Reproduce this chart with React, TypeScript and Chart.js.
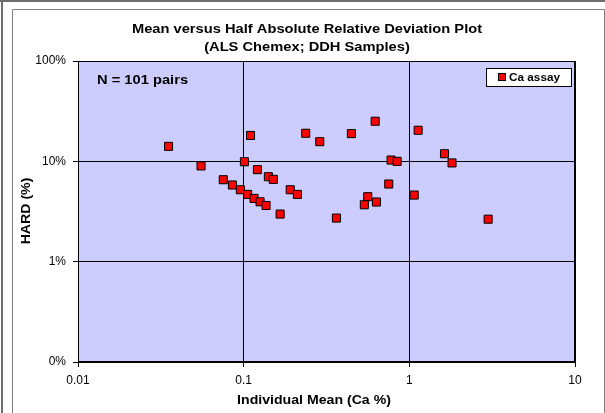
import React, { useEffect, useRef } from "react";
import { Chart, registerables } from "chart.js";

Chart.register(...registerables);

const meanCa: number[] = [0.0352, 0.0553, 0.101, 0.110, 0.0753, 0.0855, 0.0955, 0.1057, 0.1155, 0.1256, 0.1365, 0.121, 0.141, 0.151, 0.166, 0.191, 0.211, 0.237, 0.288, 0.447, 0.622, 0.363, 0.751, 0.561, 0.535, 0.633, 0.776, 0.844, 1.13, 1.07, 1.63, 1.81, 2.99];
const hardPct: number[] = [14.1, 9.0, 9.9, 18.1, 6.56, 5.81, 5.21, 4.68, 4.27, 3.95, 3.63, 8.26, 7.03, 6.61, 2.98, 5.21, 4.68, 19.05, 15.7, 18.9, 25.1, 2.72, 5.94, 4.44, 3.69, 3.93, 10.3, 10.0, 20.4, 4.61, 11.9, 9.64, 2.65];
const xTicks: number[] = [0.01, 0.1, 1, 10];
const yTicks: number[] = [0.1, 1, 10, 100];
const yTickLabels: string[] = ["0%", "1%", "10%", "100%"];
const titleLines: string[] = ["Mean versus Half Absolute Relative Deviation Plot", "(ALS Chemex; DDH Samples)"];
const xTitle = "Individual Mean (Ca %)";
const yTitle = "HARD (%)";
const seriesName = "Ca assay";
const noteText = "N = 101 pairs";

const FONT = "'Liberation Sans', Arial, sans-serif";
const SX = 1.13;

function sText(ctx: any, text: string, x: number, y: number, align: string, rot = 0, sx = SX) {
  ctx.save();
  ctx.translate(x, y);
  if (rot) ctx.rotate(rot);
  ctx.scale(sx, 1);
  ctx.textAlign = align;
  ctx.fillText(text, 0, 0);
  ctx.restore();
}

export default function App() {
  const ref = useRef<HTMLCanvasElement | null>(null);
  useEffect(() => {
    if (!ref.current) return;
    const deco = {
      id: "deco",
      beforeDraw(chart: any) {
        const { ctx, chartArea: a } = chart;
        ctx.save();
        ctx.fillStyle = "#ffffff";
        ctx.fillRect(0, 0, chart.width, chart.height);
        ctx.strokeStyle = "#6e6e6e";
        ctx.lineWidth = 2;
        ctx.beginPath();
        ctx.moveTo(0, 1);
        ctx.lineTo(605, 1);
        ctx.moveTo(2, 0);
        ctx.lineTo(2, 413);
        ctx.stroke();
        ctx.strokeStyle = "#808080";
        ctx.lineWidth = 1;
        ctx.beginPath();
        ctx.moveTo(12.5, 413);
        ctx.lineTo(12.5, 9.5);
        ctx.lineTo(604.5, 9.5);
        ctx.lineTo(604.5, 413);
        ctx.stroke();
        ctx.fillStyle = "#ccccff";
        ctx.fillRect(a.left, a.top, a.right - a.left, a.bottom - a.top);
        ctx.restore();
      },
      afterDraw(chart: any) {
        const { ctx, chartArea: a } = chart;
        ctx.save();
        ctx.strokeStyle = "#000";
        ctx.lineWidth = 1;
        ctx.strokeRect(a.left + 0.5, a.top + 0.5, a.right - a.left - 1, a.bottom - a.top - 1);
        ctx.fillStyle = "#000";
        ctx.textBaseline = "alphabetic";
        ctx.font = `bold 13px ${FONT}`;
        sText(ctx, titleLines[0], 307, 33, "center");
        sText(ctx, titleLines[1], 307, 51, "center");
        ctx.font = `bold 12.5px ${FONT}`;
        sText(ctx, xTitle, 314, 404, "center");
        sText(ctx, yTitle, 30, 211, "center", -Math.PI / 2);
        ctx.font = `bold 13px ${FONT}`;
        sText(ctx, noteText, 97, 84, "left");
        // legend
        ctx.fillStyle = "#fff";
        ctx.fillRect(486, 68, 85, 18);
        ctx.strokeStyle = "#000";
        ctx.strokeRect(486.5, 68.5, 85, 18);
        ctx.fillStyle = "#ff0000";
        ctx.fillRect(498.5, 73.5, 7, 7);
        ctx.strokeRect(498.5, 73.5, 7, 7);
        ctx.fillStyle = "#000";
        ctx.font = `bold 11px ${FONT}`;
        ctx.textBaseline = "middle";
        sText(ctx, seriesName, 509, 78, "left", 0, 1.07);
        ctx.restore();
      },
    };
    const chart = new Chart(ref.current, {
      type: "scatter",
      data: {
        datasets: [
          {
            label: seriesName,
            data: meanCa.map((x, i) => ({ x, y: hardPct[i] })),
            pointStyle: "rect",
            pointRadius: 5.7,
            backgroundColor: "#ff0000",
            borderColor: "#000000",
            borderWidth: 1,
          },
        ],
      },
      options: {
        responsive: false,
        animation: false,
        layout: { padding: { left: 0, top: 61, right: 30, bottom: 0 } },
        plugins: { legend: { display: false }, title: { display: false }, tooltip: { enabled: false } },
        scales: {
          x: {
            type: "logarithmic",
            min: 0.01,
            max: 10,
            afterBuildTicks: (s: any) => {
              s.ticks = xTicks.map((v) => ({ value: v, major: true }));
            },
            afterFit: (s: any) => {
              s.height = 51;
            },
            ticks: {
              color: "#000",
              font: { family: FONT, size: 12 },
              padding: 6,
              maxRotation: 0,
              autoSkip: false,
              callback: (v: any) => String(v),
            },
            grid: { color: "#000", lineWidth: 1, tickLength: 5, drawOnChartArea: true },
            border: { display: true, color: "#000" },
          },
          y: {
            type: "logarithmic",
            min: 0.1,
            max: 100,
            afterBuildTicks: (s: any) => {
              s.ticks = yTicks.map((v) => ({ value: v, major: true }));
            },
            afterFit: (s: any) => {
              s.width = 78;
            },
            ticks: {
              color: "#000",
              font: { family: FONT, size: 12 },
              padding: 7,
              autoSkip: false,
              callback: (v: any) => {
                const i = yTicks.indexOf(Number(v));
                return i >= 0 ? yTickLabels[i] : "";
              },
            },
            grid: { color: "#000", lineWidth: 1, tickLength: 5 },
            border: { display: true, color: "#000" },
          },
        },
      },
      plugins: [deco],
    });
    return () => chart.destroy();
  }, []);
  return (
    <div style={{ position: "absolute", left: 0, top: 0, width: 605, height: 413 }}>
      <canvas ref={ref} width={605} height={413} style={{ width: 605, height: 413, display: "block" }} />
    </div>
  );
}
